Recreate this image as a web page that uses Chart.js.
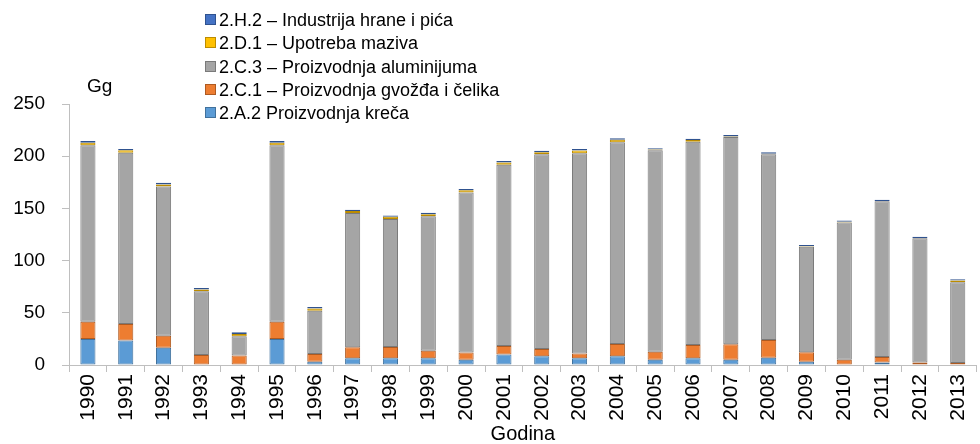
<!DOCTYPE html>
<html>
<head>
<meta charset="utf-8">
<script src="https://cdn.jsdelivr.net/npm/chart.js@4.4.1/dist/chart.umd.min.js"></script>
<style>
  html, body { margin: 0; padding: 0; background: #fff; overflow: hidden; }
  #wrap { position: relative; width: 980px; height: 444px; overflow: hidden; }
  #chart { position: absolute; left: 0; top: 0; }
  #legend { position: absolute; left: 205px; top: 9px; font: 18px "Liberation Sans", Arial, sans-serif; color: #000; }
  #legend div { height: 23.3px; line-height: 23.3px; white-space: nowrap; }
  #legend span { display: inline-block; width: 9px; height: 9px; margin-right: 3px; vertical-align: 1px; border: 1px solid; }
  #ytitle { position: absolute; left: 87px; top: 75px; font: 19px "Liberation Sans", Arial, sans-serif; color: #000; }
</style>
</head>
<body>
<div id="wrap">
  <canvas id="chart" width="985" height="444"></canvas>
  <div id="legend"></div>
  <div id="ytitle">Gg</div>
</div>
<script>
const years = ['1990', '1991', '1992', '1993', '1994', '1995', '1996', '1997', '1998', '1999', '2000', '2001',
  '2002', '2003', '2004', '2005', '2006', '2007', '2008', '2009', '2010', '2011', '2012', '2013'];

// 2.A.2 Proizvodnja kreča
const krec = [25, 23.5, 16.5, 0, 0, 25, 3, 6.4, 6.4, 6.4, 5, 10, 8.3, 6.4, 8.3, 5, 6.4, 5, 7, 3.2, 0.5, 2.5, 0, 0];
// 2.C.1 Proizvodnja gvožđa i čelika
const celik = [16.5, 15.7, 11.5, 9.6, 9, 16.5, 7.5, 10.6, 10.8, 7.3, 7, 8.3, 7, 4.5, 11.8, 7.7, 12.8, 14.8, 16.9, 8.9, 4.5, 5.2, 2.5, 1.9];
// 2.C.3 Proizvodnja aluminijuma
const aluminijum = [169, 164, 143, 61, 18.5, 169, 41.5, 128.6, 122.6, 128.7, 153.3, 173.4, 186.5, 192, 193.2, 192.9, 194.7, 198.6, 177.9, 101.2, 131.6, 149.1, 118.8, 77.3];
// 2.D.1 Upotreba maziva
const maziva = [2.5, 2.4, 2, 1.7, 2.3, 2.5, 2, 1.8, 2.2, 2, 2, 2.3, 2, 2.5, 2.4, 0.8, 1.5, 0.5, 0.5, 0.5, 0.5, 0.3, 0.3, 1.7];
// 2.H.2 Industrija hrane i pića
const hrana = [1.6, 1.4, 1.5, 1.5, 1.6, 1.6, 1.5, 1.2, 1.2, 1.4, 1.4, 1.4, 1.4, 1.5, 1.4, 1.2, 1.2, 1.5, 1.5, 1.2, 1.2, 1.1, 1.3, 1.2];

const yTicks = [0, 50, 100, 150, 200, 250];

const fontFamily = '"Liberation Sans", Arial, sans-serif';
const axisColor = '#BFBFBF';

function series(label, data, fill, border) {
  return {
    label: label,
    data: data,
    backgroundColor: fill,
    borderColor: border,
    borderWidth: 1,
    borderSkipped: false,
    barPercentage: 0.4,
    categoryPercentage: 1.0,
  };
}

const datasets = [
  series('2.A.2 Proizvodnja kreča', krec, '#5B9BD5', '#41719C'),
  series('2.C.1 – Proizvodnja gvožđa i čelika', celik, '#ED7D31', '#AE5A21'),
  series('2.C.3 – Proizvodnja aluminijuma', aluminijum, '#A5A5A5', '#7A7A7A'),
  series('2.D.1 – Upotreba maziva', maziva, '#FFC000', '#BC8C00'),
  series('2.H.2 – Industrija hrane i pića', hrana, '#4472C4', '#2F528F'),
];

// legend, top entry = last series
const legend = document.getElementById('legend');
datasets.slice().reverse().forEach((ds) => {
  const row = document.createElement('div');
  const box = document.createElement('span');
  box.style.background = ds.backgroundColor;
  box.style.borderColor = ds.borderColor;
  row.appendChild(box);
  row.appendChild(document.createTextNode(ds.label));
  legend.appendChild(row);
});

const config = {
  type: 'bar',
  data: { labels: years, datasets: datasets },
  options: {
    responsive: false,
    animation: false,
    layout: { padding: { top: 104, right: 3, left: 0, bottom: 0 } },
    plugins: {
      legend: { display: false },
      tooltip: { enabled: false },
    },
    scales: {
      x: {
        stacked: true,
        offset: true,
        grid: { offset: true, drawOnChartArea: false, drawTicks: true, tickLength: 7, color: axisColor },
        border: { color: axisColor },
        ticks: {
          color: '#000',
          font: { family: fontFamily, size: 21 },
          minRotation: 90,
          maxRotation: 90,
          autoSkip: false,
          padding: 2,
        },
        title: {
          display: true,
          text: 'Godina',
          color: '#000',
          font: { family: fontFamily, size: 20, lineHeight: 1.0 },
          padding: { top: 0, bottom: 0 },
        },
        afterFit: (scale) => { scale.height = 79; },
      },
      y: {
        stacked: true,
        min: 0,
        max: 250,
        grid: { drawOnChartArea: false, drawTicks: true, tickLength: 7, color: axisColor },
        border: { color: axisColor },
        afterBuildTicks: (scale) => { scale.ticks = yTicks.map(v => ({ value: v })); },
        ticks: {
          color: '#000',
          font: { family: fontFamily, size: 19 },
          padding: 17,
        },
        afterFit: (scale) => { scale.width = 69; },
      },
    },
  },
};

new Chart(document.getElementById('chart'), config);
</script>
</body>
</html>
